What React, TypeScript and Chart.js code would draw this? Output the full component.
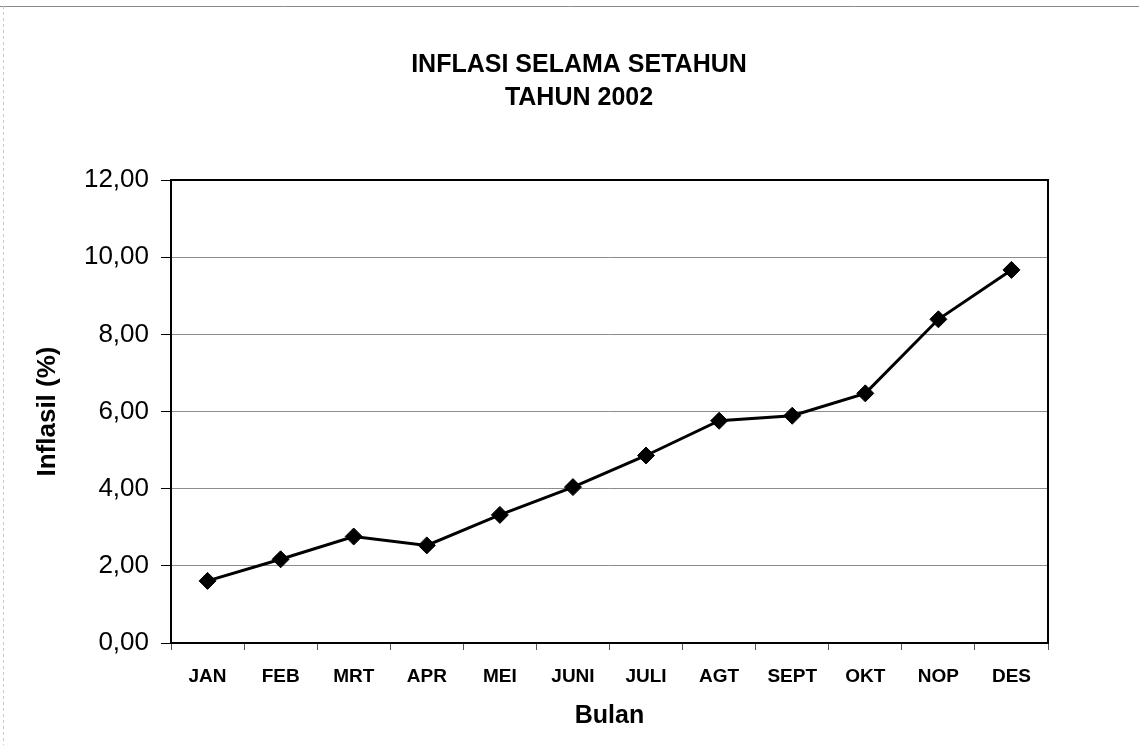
import React, { useEffect, useRef } from "react";
import { Chart, registerables } from "chart.js";

Chart.register(...registerables);

const months = ["JAN", "FEB", "MRT", "APR", "MEI", "JUNI", "JULI", "AGT", "SEPT", "OKT", "NOP", "DES"];
const inflation = [1.61, 2.17, 2.76, 2.53, 3.32, 4.04, 4.86, 5.76, 5.89, 6.47, 8.39, 9.67];
const titleLines = ["INFLASI SELAMA SETAHUN", "TAHUN 2002"];
const xTitle = "Bulan";
const yTitle = "Inflasil (%)";
const yMin = 0;
const yMax = 12;
const yStep = 2;

const FONT = "'Liberation Sans', Arial, sans-serif";

const framePlugin = {
  id: "framePlugin",
  beforeDatasetsDraw(chart: any) {
    const { ctx, chartArea } = chart;
    ctx.save();
    ctx.strokeStyle = "#000";
    ctx.lineWidth = 2;
    ctx.strokeRect(chartArea.left, chartArea.top, chartArea.right - chartArea.left, chartArea.bottom - chartArea.top);
    ctx.restore();
  },
  afterDraw(chart: any) {
    const { ctx } = chart;
    ctx.save();
    // faint scanned page edges
    ctx.strokeStyle = "#8a8a8a";
    ctx.lineWidth = 1;
    ctx.beginPath();
    ctx.moveTo(0, 6.5);
    ctx.lineTo(1139, 6.5);
    ctx.stroke();
    ctx.strokeStyle = "#c8c8c8";
    ctx.setLineDash([3, 3]);
    ctx.beginPath();
    ctx.moveTo(3.5, 6);
    ctx.lineTo(3.5, 745);
    ctx.stroke();
    ctx.setLineDash([]);
    // title
    ctx.fillStyle = "#000";
    ctx.font = `bold 25px ${FONT}`;
    ctx.textAlign = "center";
    ctx.textBaseline = "middle";
    ctx.fillText(titleLines[0], 579, 65);
    ctx.fillText(titleLines[1], 579, 98);
    ctx.restore();
  },
};

export default function App() {
  const ref = useRef<HTMLCanvasElement>(null);

  useEffect(() => {
    if (!ref.current) return;
    const chart = new Chart(ref.current, {
      type: "line",
      data: {
        labels: months,
        datasets: [
          {
            data: inflation,
            borderColor: "#000",
            backgroundColor: "#000",
            borderWidth: 3,
            pointStyle: "rectRot",
            pointRadius: 8.5,
            pointBackgroundColor: "#000",
            pointBorderColor: "#000",
            pointBorderWidth: 1,
            tension: 0,
            fill: false,
          },
        ],
      },
      options: {
        animation: false,
        responsive: false,
        maintainAspectRatio: false,
        layout: { padding: { left: 0, right: 91, top: 180, bottom: 0 } },
        plugins: {
          legend: { display: false },
          title: { display: false },
          tooltip: { enabled: false },
        },
        scales: {
          x: {
            type: "category",
            offset: true,
            grid: {
              display: true,
              drawOnChartArea: false,
              drawTicks: true,
              tickLength: 7,
              tickColor: "#555",
              offset: true,
            },
            border: { display: false },
            ticks: {
              color: "#000",
              font: { family: FONT, size: 19, weight: "bold" },
              padding: 15,
              maxRotation: 0,
              autoSkip: false,
            },
            title: {
              display: true,
              text: xTitle,
              color: "#000",
              font: { family: FONT, size: 25, weight: "bold" },
              padding: { top: 4, bottom: 14 },
            },
            afterFit(scale: any) {
              scale.height = 102;
            },
          },
          y: {
            min: yMin,
            max: yMax,
            grid: {
              color: "#8c8c8c",
              lineWidth: 1,
              drawTicks: true,
              tickLength: 10,
              tickColor: "#000",
            },
            border: { display: false },
            ticks: {
              stepSize: yStep,
              color: "#000",
              font: { family: FONT, size: 26 },
              padding: 12,
              callback: (v: any) => Number(v).toFixed(2).replace(".", ","),
            },
            title: {
              display: true,
              text: yTitle,
              color: "#000",
              font: { family: FONT, size: 26, weight: "bold" },
              padding: { top: 32, bottom: 0 },
            },
            afterFit(scale: any) {
              scale.width = 171;
            },
          },
        },
      },
      plugins: [framePlugin],
    });
    return () => chart.destroy();
  }, []);

  return (
    <div style={{ position: "fixed", left: 0, top: 0, width: 1139, height: 745, background: "#fff" }}>
      <canvas ref={ref} width={1139} height={745} style={{ width: 1139, height: 745, display: "block" }} />
    </div>
  );
}
